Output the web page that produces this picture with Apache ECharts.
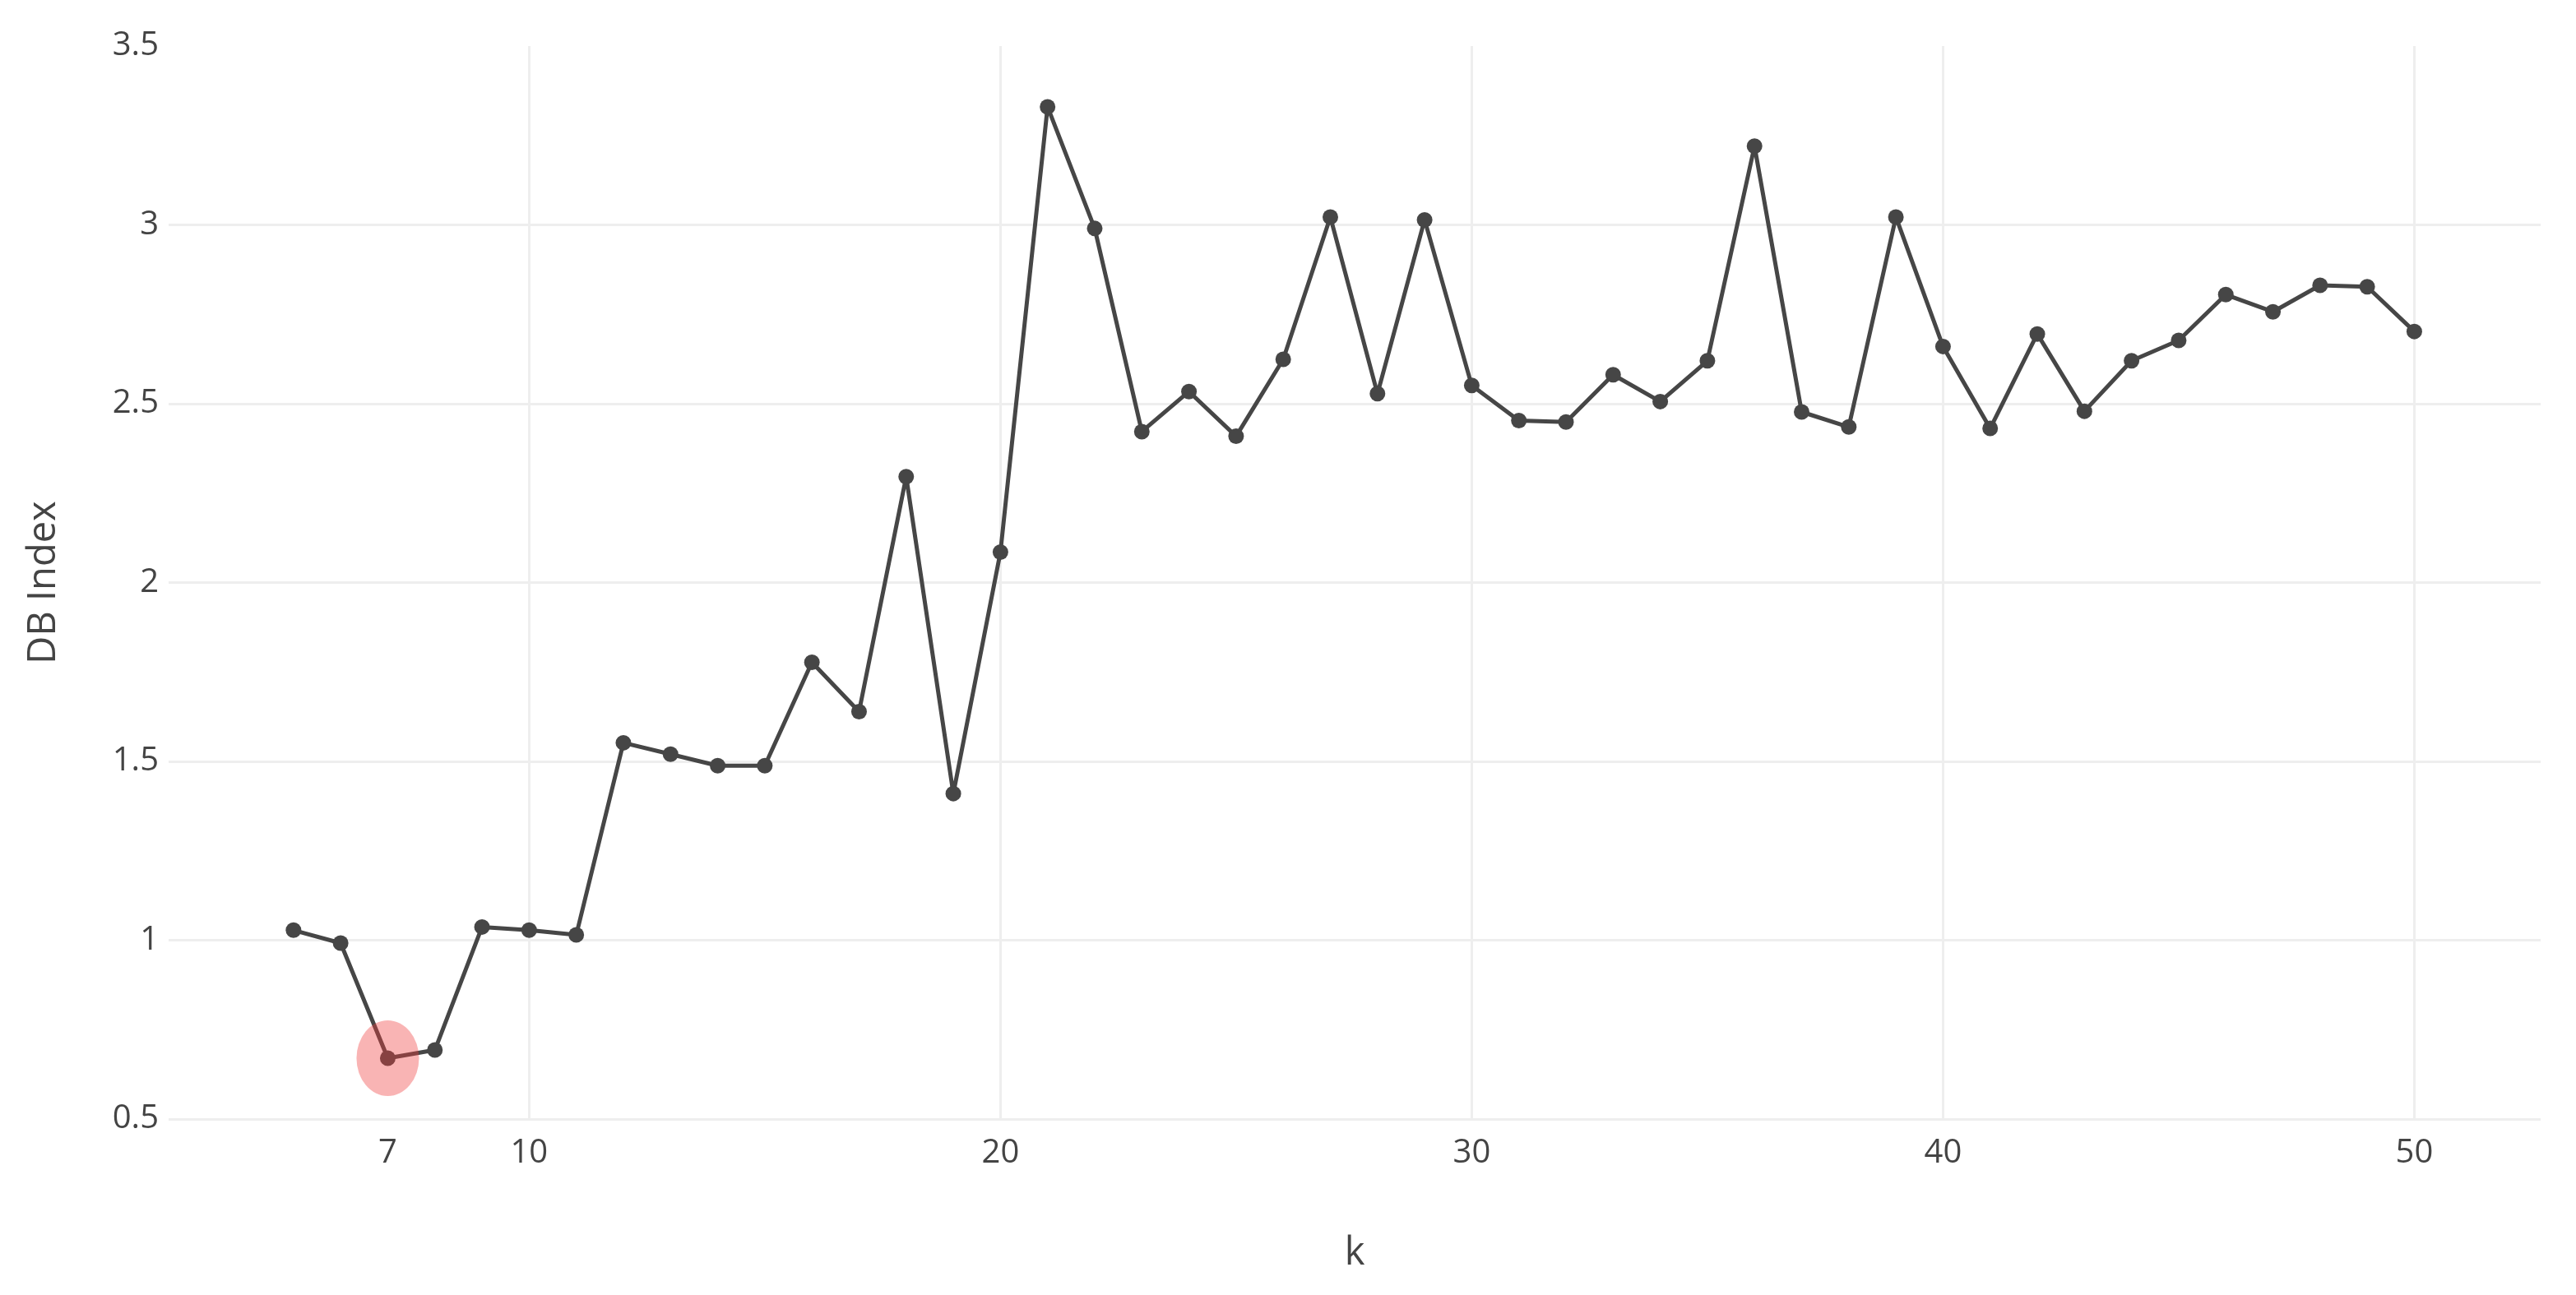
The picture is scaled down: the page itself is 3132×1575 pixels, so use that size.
<!DOCTYPE html>
<html>
<head>
<meta charset="utf-8">
<script src="https://cdn.jsdelivr.net/npm/echarts@6/dist/echarts.min.js"></script>
<style>
  html, body { margin: 0; padding: 0; background: #fff; }
  #chart { width: 3132px; height: 1575px; }
</style>
</head>
<body>
<div id="chart"></div>
<script>
const kValues = [5, 6, 7, 8, 9, 10, 11, 12, 13, 14, 15, 16, 17, 18, 19, 20, 21, 22, 23, 24, 25, 26, 27,
  28, 29, 30, 31, 32, 33, 34, 35, 36, 37, 38, 39, 40, 41, 42, 43, 44, 45, 46, 47, 48, 49, 50];
const dbIndex = [1.028, 0.992, 0.670, 0.693, 1.037, 1.028, 1.015, 1.552, 1.520, 1.488, 1.488, 1.777,
  1.639, 2.296, 1.410, 2.085, 3.330, 2.990, 2.422, 2.534, 2.409, 2.624, 3.022, 2.528, 3.014, 2.551,
  2.453, 2.449, 2.581, 2.506, 2.620, 3.220, 2.477, 2.435, 3.022, 2.660, 2.431, 2.695, 2.479, 2.620,
  2.677, 2.805, 2.757, 2.831, 2.827, 2.702];
const xLabels = [7, 10, 20, 30, 40, 50];
const xGrid = [10, 20, 30, 40, 50];
const bestK = 7;

const chart = echarts.init(document.getElementById("chart"));

const lineData = kValues.map((k, i) => [k, dbIndex[i]]);
const bestPoint = [bestK, dbIndex[kValues.indexOf(bestK)]];

const font = "'Open Sans', 'DejaVu Sans', sans-serif";

chart.setOption({
  animation: false,
  backgroundColor: "#fff",
  grid: { left: 205, right: 43, top: 56, bottom: 214 },
  xAxis: {
    type: "value",
    min: 2.35,
    max: 52.68,
    name: "k",
    nameLocation: "middle",
    nameGap: 140,
    nameTextStyle: { fontFamily: font, fontSize: 47, color: "#444" },
    axisLine: { show: false },
    axisTick: { show: false, customValues: xGrid },
    axisLabel: {
      customValues: xLabels,
      fontFamily: font,
      fontSize: 40,
      color: "#444",
      margin: 22,
    },
    splitLine: { show: true, lineStyle: { color: "#eeeeee", width: 3 } },
  },
  yAxis: {
    type: "value",
    min: 0.5,
    max: 3.5,
    interval: 0.5,
    name: "DB Index",
    nameLocation: "middle",
    nameGap: 128,
    nameTextStyle: { fontFamily: font, fontSize: 47, color: "#444" },
    axisLine: { show: false },
    axisTick: { show: false },
    axisLabel: { fontFamily: font, fontSize: 40, color: "#444", margin: 12 },
    splitLine: { show: true, showMaxLine: false, lineStyle: { color: "#eeeeee", width: 3 } },
  },
  series: [
    {
      type: "line",
      data: lineData,
      symbol: "circle",
      symbolSize: 19,
      lineStyle: { color: "#464646", width: 5 },
      itemStyle: { color: "#464646" },
      z: 2,
    },
    {
      type: "scatter",
      data: [bestPoint],
      symbol: "circle",
      symbolSize: [76, 92],
      itemStyle: { color: "rgba(240, 60, 60, 0.48)" },
      z: 3,
    },
  ],
});
</script>
</body>
</html>
